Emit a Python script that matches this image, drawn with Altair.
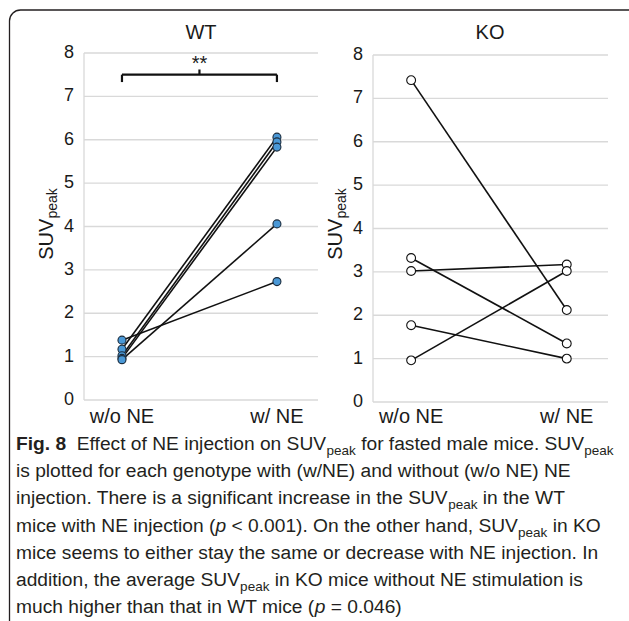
import altair as alt
import pandas as pd

# ---------------- data ----------------
conditions = ["w/o NE", "w/ NE"]
wt_without_ne = [1.38, 1.17, 1.02, 0.96, 0.93]
wt_with_ne = [2.73, 6.06, 5.95, 5.83, 4.06]
ko_without_ne = [7.42, 3.32, 3.02, 1.77, 0.96]
ko_with_ne = [2.12, 1.35, 3.17, 1.00, 3.02]
y_ticks = [0, 1, 2, 3, 4, 5, 6, 7, 8]
panel_titles = ["WT", "KO"]
significance = "**"
bracket_level = 7.5

caption_lines = [
    [("Fig. 8", "b"), ("  Effect of NE injection on SUV", "n"), ("peak", "s"),
     (" for fasted male mice. SUV", "n"), ("peak", "s")],
    [("is plotted for each genotype with (w/NE) and without (w/o NE) NE", "n")],
    [("injection. There is a significant increase in the SUV", "n"), ("peak", "s"),
     (" in the WT", "n")],
    [("mice with NE injection (", "n"), ("p", "i"), (" < 0.001). On the other hand, SUV", "n"),
     ("peak", "s"), (" in KO", "n")],
    [("mice seems to either stay the same or decrease with NE injection. In", "n")],
    [("addition, the average SUV", "n"), ("peak", "s"),
     (" in KO mice without NE stimulation is", "n")],
    [("much higher than that in WT mice (", "n"), ("p", "i"), (" = 0.046)", "n")],
]

# ---------------- layout constants ----------------
FONT = "Liberation Sans"
TXT = "#1a1a1a"
GRID = "#d9d9d9"
X_DOMAIN = [-0.245, 1.265]
PANELS = {
    "WT": dict(xr=[84, 318], yr=[400, 53], title_x=201, ytitle_x=53),
    "KO": dict(xr=[373, 608], yr=[402, 55], title_x=490, ytitle_x=342),
}

# Arial / Liberation Sans advance widths (per 1000 em) used to lay out caption runs
REG = {" ": 278, "(": 333, ")": 333, ",": 278, ".": 278, "/": 278, "<": 584, "=": 584,
       "0": 556, "1": 556, "2": 556, "3": 556, "4": 556, "5": 556, "6": 556, "7": 556,
       "8": 556, "9": 556, "E": 667, "F": 611, "I": 278, "K": 667, "N": 722, "O": 778,
       "S": 667, "T": 611, "U": 722, "V": 667, "W": 944,
       "a": 556, "b": 556, "c": 500, "d": 556, "e": 556, "f": 278, "g": 556, "h": 556,
       "i": 222, "j": 222, "k": 500, "l": 222, "m": 833, "n": 556, "o": 556, "p": 556,
       "q": 556, "r": 333, "s": 500, "t": 278, "u": 556, "v": 500, "w": 722, "x": 500,
       "y": 500, "z": 500}
BOLD = {" ": 278, ".": 278, "8": 556, "F": 611, "i": 278, "g": 611}

CAP_SIZE = 19.2
SUB_SIZE = 13.5
CAP_X0 = 16
CAP_BASE0 = 450
CAP_STEP = 27.2


def text_width(s, size, table):
    return sum(table.get(ch, 556) for ch in s) * size / 1000.0


def long_df(before, after):
    rows = []
    for i, (b, a) in enumerate(zip(before, after)):
        rows.append(dict(mouse=i, c=0, v=b))
        rows.append(dict(mouse=i, c=1, v=a))
    return pd.DataFrame(rows)


tick_df = pd.DataFrame({"v": y_ticks, "lab": [str(t) for t in y_ticks]})
cond_df = pd.DataFrame({"c": [0, 1], "cond": conditions})
one_df = pd.DataFrame({"k": [0]})


def panel(name, df, point_fill, point_stroke, point_size, with_bracket):
    p = PANELS[name]
    xs = alt.Scale(domain=X_DOMAIN, range=p["xr"], nice=False, zero=False)
    ys = alt.Scale(domain=[0, 8], range=p["yr"], nice=False, zero=False)
    layers = []
    layers.append(
        alt.Chart(tick_df).mark_rule(color=GRID, strokeWidth=1.3).encode(
            y=alt.Y("v:Q", scale=ys, axis=None),
            x=alt.value(p["xr"][0]), x2=alt.value(p["xr"][1]))
    )
    layers.append(
        alt.Chart(tick_df).mark_rule(color=GRID, strokeWidth=1.3).encode(
            x=alt.value(p["xr"][0]),
            y=alt.Y("min(v):Q", scale=ys, axis=None), y2="max(v):Q")
    )
    layers.append(
        alt.Chart(tick_df).mark_text(align="right", baseline="middle", fontSize=18,
                                     font=FONT, color=TXT).encode(
            y=alt.Y("v:Q", scale=ys, axis=None),
            x=alt.value(p["xr"][0] - 10), text="lab:N")
    )
    layers.append(
        alt.Chart(df).mark_line(color="#111111", strokeWidth=1.6).encode(
            x=alt.X("c:Q", scale=xs, axis=None),
            y=alt.Y("v:Q", scale=ys, axis=None),
            detail="mouse:N")
    )
    layers.append(
        alt.Chart(df).mark_circle(size=point_size, color=point_fill, stroke=point_stroke,
                                  strokeWidth=1.1, opacity=1).encode(
            x=alt.X("c:Q", scale=xs, axis=None),
            y=alt.Y("v:Q", scale=ys, axis=None))
    )
    layers.append(
        alt.Chart(cond_df).mark_text(baseline="alphabetic", fontSize=20, font=FONT,
                                     color=TXT).encode(
            x=alt.X("c:Q", scale=xs, axis=None),
            y=alt.value(423), text="cond:N")
    )
    if with_bracket:
        br = pd.DataFrame({
            "x1": [0, 0, 1, 0.5], "x2": [1, 0, 1, 0.5],
            "y1": [bracket_level] * 4,
            "y2": [bracket_level, bracket_level - 0.17, bracket_level - 0.17,
                   bracket_level + 0.12]})
        layers.append(
            alt.Chart(br).mark_rule(color="#111111", strokeWidth=2.2).encode(
                x=alt.X("x1:Q", scale=xs, axis=None), x2="x2:Q",
                y=alt.Y("y1:Q", scale=ys, axis=None), y2="y2:Q")
        )
        sig = pd.DataFrame({"x": [0.5], "y": [bracket_level + 0.24], "t": [significance]})
        layers.append(
            alt.Chart(sig).mark_text(fontSize=20, font=FONT, color=TXT,
                                     baseline="middle").encode(
                x=alt.X("x:Q", scale=xs, axis=None),
                y=alt.Y("y:Q", scale=ys, axis=None), text="t:N")
        )
    layers.append(
        alt.Chart(one_df).mark_text(fontSize=20, font=FONT, color=TXT,
                                    baseline="middle").encode(
            x=alt.value(p["title_x"]), y=alt.value(33), text=alt.value(name))
    )
    ytx = p["ytitle_x"]
    suv_w = text_width("SUV", 20, REG)
    y_start = 224 + (suv_w + text_width("peak", 14, REG)) / 2
    layers.append(
        alt.Chart(one_df).mark_text(fontSize=20, font=FONT, color=TXT, angle=270,
                                    align="left", baseline="alphabetic").encode(
            x=alt.value(ytx), y=alt.value(y_start), text=alt.value("SUV"))
    )
    layers.append(
        alt.Chart(one_df).mark_text(fontSize=14, font=FONT, color=TXT, angle=270,
                                    align="left", baseline="alphabetic").encode(
            x=alt.value(ytx + 4), y=alt.value(y_start - suv_w), text=alt.value("peak"))
    )
    return layers


wt_layers = panel("WT", long_df(wt_without_ne, wt_with_ne), "#4a98d6", "#1c2c3c", 64, True)
ko_layers = panel("KO", long_df(ko_without_ne, ko_with_ne), "#ffffff", "#111111", 78, False)

# ---------------- caption runs ----------------
runs = {"n": [], "b": [], "i": [], "s": []}
for li, line in enumerate(caption_lines):
    x = CAP_X0
    base = CAP_BASE0 + li * CAP_STEP
    for txt, style in line:
        size = SUB_SIZE if style == "s" else CAP_SIZE
        table = BOLD if style == "b" else REG
        lead = len(txt) - len(txt.lstrip(" "))
        x += lead * REG[" "] * size / 1000.0
        body = txt.lstrip(" ")
        runs[style].append(dict(x=x, y=base + (5 if style == "s" else 0), t=body))
        x += text_width(body, size, table)

cap_layers = []
for style, rows in runs.items():
    if not rows:
        continue
    kw = dict(align="left", baseline="alphabetic", font=FONT, color="#231f20",
              fontSize=SUB_SIZE if style == "s" else CAP_SIZE)
    if style == "b":
        kw["fontWeight"] = "bold"
    if style == "i":
        kw["fontStyle"] = "italic"
    cap_layers.append(
        alt.Chart(pd.DataFrame(rows)).mark_text(**kw).encode(
            x=alt.X("x:Q", scale=None, axis=None),
            y=alt.Y("y:Q", scale=None, axis=None), text="t:N")
    )

frame = alt.Chart(one_df).mark_rect(fillOpacity=0, stroke="#231f20", strokeWidth=1.3,
                                    cornerRadius=11).encode(
    x=alt.value(9.5), x2=alt.value(700), y=alt.value(10), y2=alt.value(634))

chart = alt.layer(*wt_layers, *ko_layers, *cap_layers, frame).resolve_scale(
    x="independent", y="independent"
).properties(
    width=629, height=621, padding=0, autosize=alt.AutoSizeParams(type="none"),
    background="white"
).configure_view(stroke=None)

chart.save("out.html", embed_options={"renderer": "svg", "actions": False})
